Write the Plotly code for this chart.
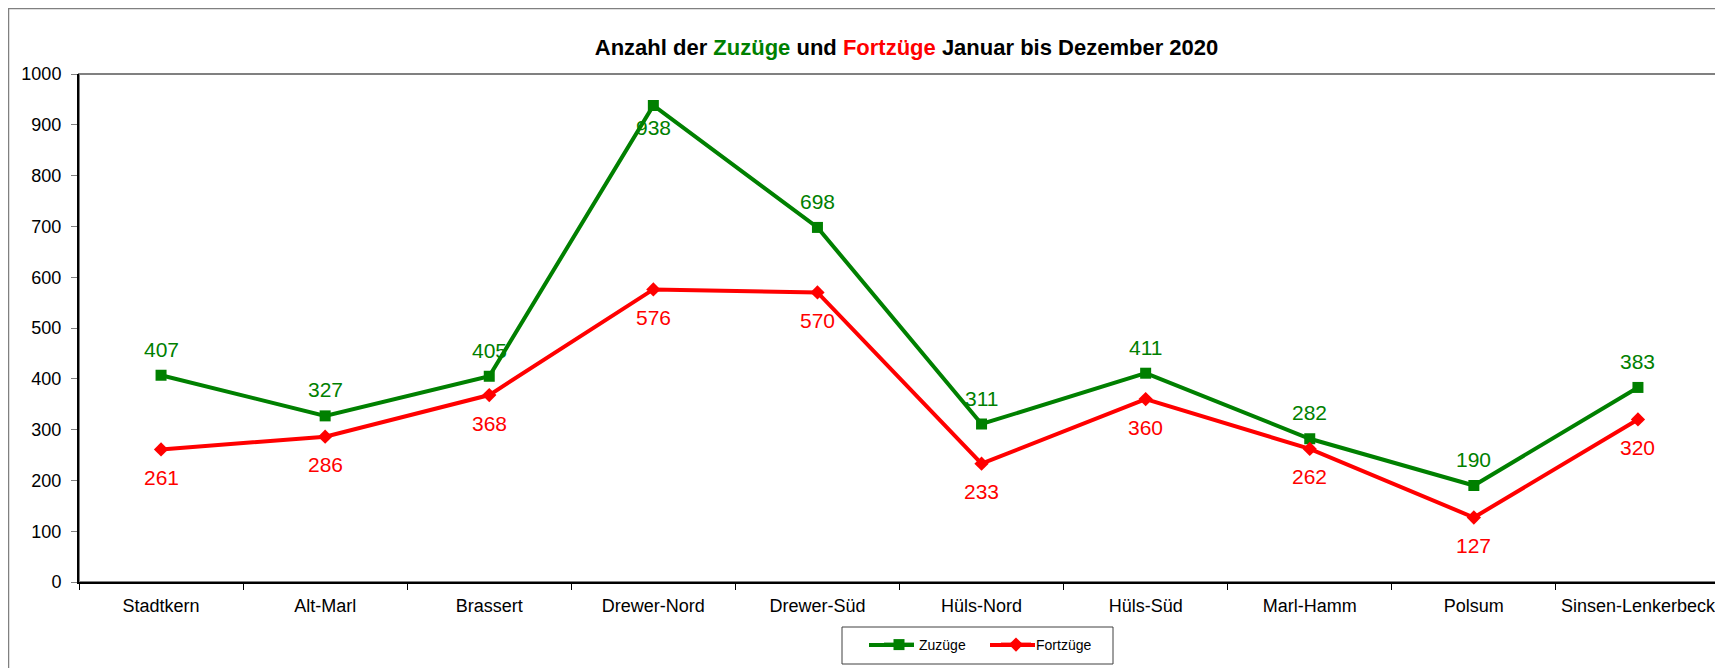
import plotly.graph_objects as go

categories = ["Stadtkern", "Alt-Marl", "Brassert", "Drewer-Nord", "Drewer-Süd",
              "Hüls-Nord", "Hüls-Süd", "Marl-Hamm", "Polsum", "Sinsen-Lenkerbeck"]
zuzuege = [407, 327, 405, 938, 698, 311, 411, 282, 190, 383]
fortzuege = [261, 286, 368, 576, 570, 233, 360, 262, 127, 320]
zuzuege_label_above = [True, True, True, False, True, True, True, True, True, True]
y_ticks = list(range(0, 1001, 100))

GREEN = "#008000"
RED = "#FF0000"
FONT = "Liberation Sans, Arial, sans-serif"

W, H = 1723, 668
L, R, T, B = 71, 11, 66, 94
pw = W - L - R
ph = H - T - B


def px_x(px):
    return (px - L) / pw


def px_y(py):
    return (H - B - py) / ph


fig = go.Figure()
fig.add_trace(go.Scatter(
    x=categories, y=zuzuege, name="Zuzüge", mode="lines+markers",
    line=dict(color=GREEN, width=4), marker=dict(symbol="square", size=11, color=GREEN),
    cliponaxis=False))
fig.add_trace(go.Scatter(
    x=categories, y=fortzuege, name="Fortzüge", mode="lines+markers",
    line=dict(color=RED, width=4), marker=dict(symbol="diamond", size=11, color=RED),
    cliponaxis=False))

for c, v, above in zip(categories, zuzuege, zuzuege_label_above):
    fig.add_annotation(x=c, y=v, text=str(v), showarrow=False, xanchor="center",
                       yanchor="middle", yshift=26 if above else -22,
                       font=dict(color=GREEN, size=21, family=FONT))
for c, v in zip(categories, fortzuege):
    fig.add_annotation(x=c, y=v, text=str(v), showarrow=False, xanchor="center",
                       yanchor="middle", yshift=-28,
                       font=dict(color=RED, size=21, family=FONT))

# outer chart frame
fig.add_shape(type="rect", xref="paper", yref="paper",
              x0=px_x(0.5), x1=px_x(W - 0.5), y0=px_y(H - 0.5), y1=px_y(0.5),
              line=dict(color="#808080", width=1.5), layer="below")
# plot area frame (top/right gray)
fig.add_shape(type="rect", xref="paper", yref="paper", x0=0, x1=1, y0=0, y1=1,
              line=dict(color="#808080", width=2), layer="below")
# legend box
fig.add_shape(type="rect", xref="paper", yref="paper",
              x0=px_x(834), x1=px_x(1105), y0=px_y(656), y1=px_y(619),
              line=dict(color="#404040", width=1), fillcolor="white", layer="below")
# longer legend line samples (as in the original legend)
for x0, x1, col in [(861, 906, GREEN), (982, 1027, RED)]:
    fig.add_shape(type="line", xref="paper", yref="paper",
                  x0=px_x(x0), x1=px_x(x1), y0=px_y(637), y1=px_y(637),
                  line=dict(color=col, width=4), layer="below")

fig.update_layout(
    width=W, height=H,
    margin=dict(l=L, r=R, t=T, b=B, autoexpand=False),
    paper_bgcolor="white", plot_bgcolor="white",
    font=dict(family=FONT, size=16, color="black"),
    title=dict(
        text="<b>Anzahl der <span style='color:#008000'>Zuzüge</span> und "
             "<span style='color:#FF0000'>Fortzüge</span> Januar bis Dezember 2020</b>",
        x=898.5 / W, xanchor="center", y=1 - 39 / H, yanchor="middle",
        font=dict(size=22, family=FONT, color="black")),
    showlegend=True,
    legend=dict(orientation="h", x=px_x(871), xanchor="left", y=px_y(637), yanchor="middle",
                borderwidth=0, bgcolor="rgba(0,0,0,0)",
                font=dict(size=14, family=FONT), entrywidth=72, entrywidthmode="pixels"),
)
fig.update_xaxes(
    type="category", categoryorder="array", categoryarray=categories,
    range=[-0.5, len(categories) - 0.5],
    showline=True, linecolor="black", linewidth=2,
    showgrid=False, zeroline=False, automargin=False, tickangle=0,
    ticks="outside", ticklen=6, tickcolor="black", tickson="boundaries",
    ticklabelstandoff=6,
    tickfont=dict(size=18, family=FONT, color="black"),
)
fig.update_yaxes(
    range=[0, 1000], tickvals=y_ticks, ticktext=[str(v) for v in y_ticks],
    showline=True, linecolor="black", linewidth=2,
    showgrid=False, zeroline=False, automargin=False,
    ticks="outside", ticklen=6, tickcolor="#808080",
    ticklabelstandoff=6,
    tickfont=dict(size=18, family=FONT, color="black"),
)

fig.write_html("out.html")
